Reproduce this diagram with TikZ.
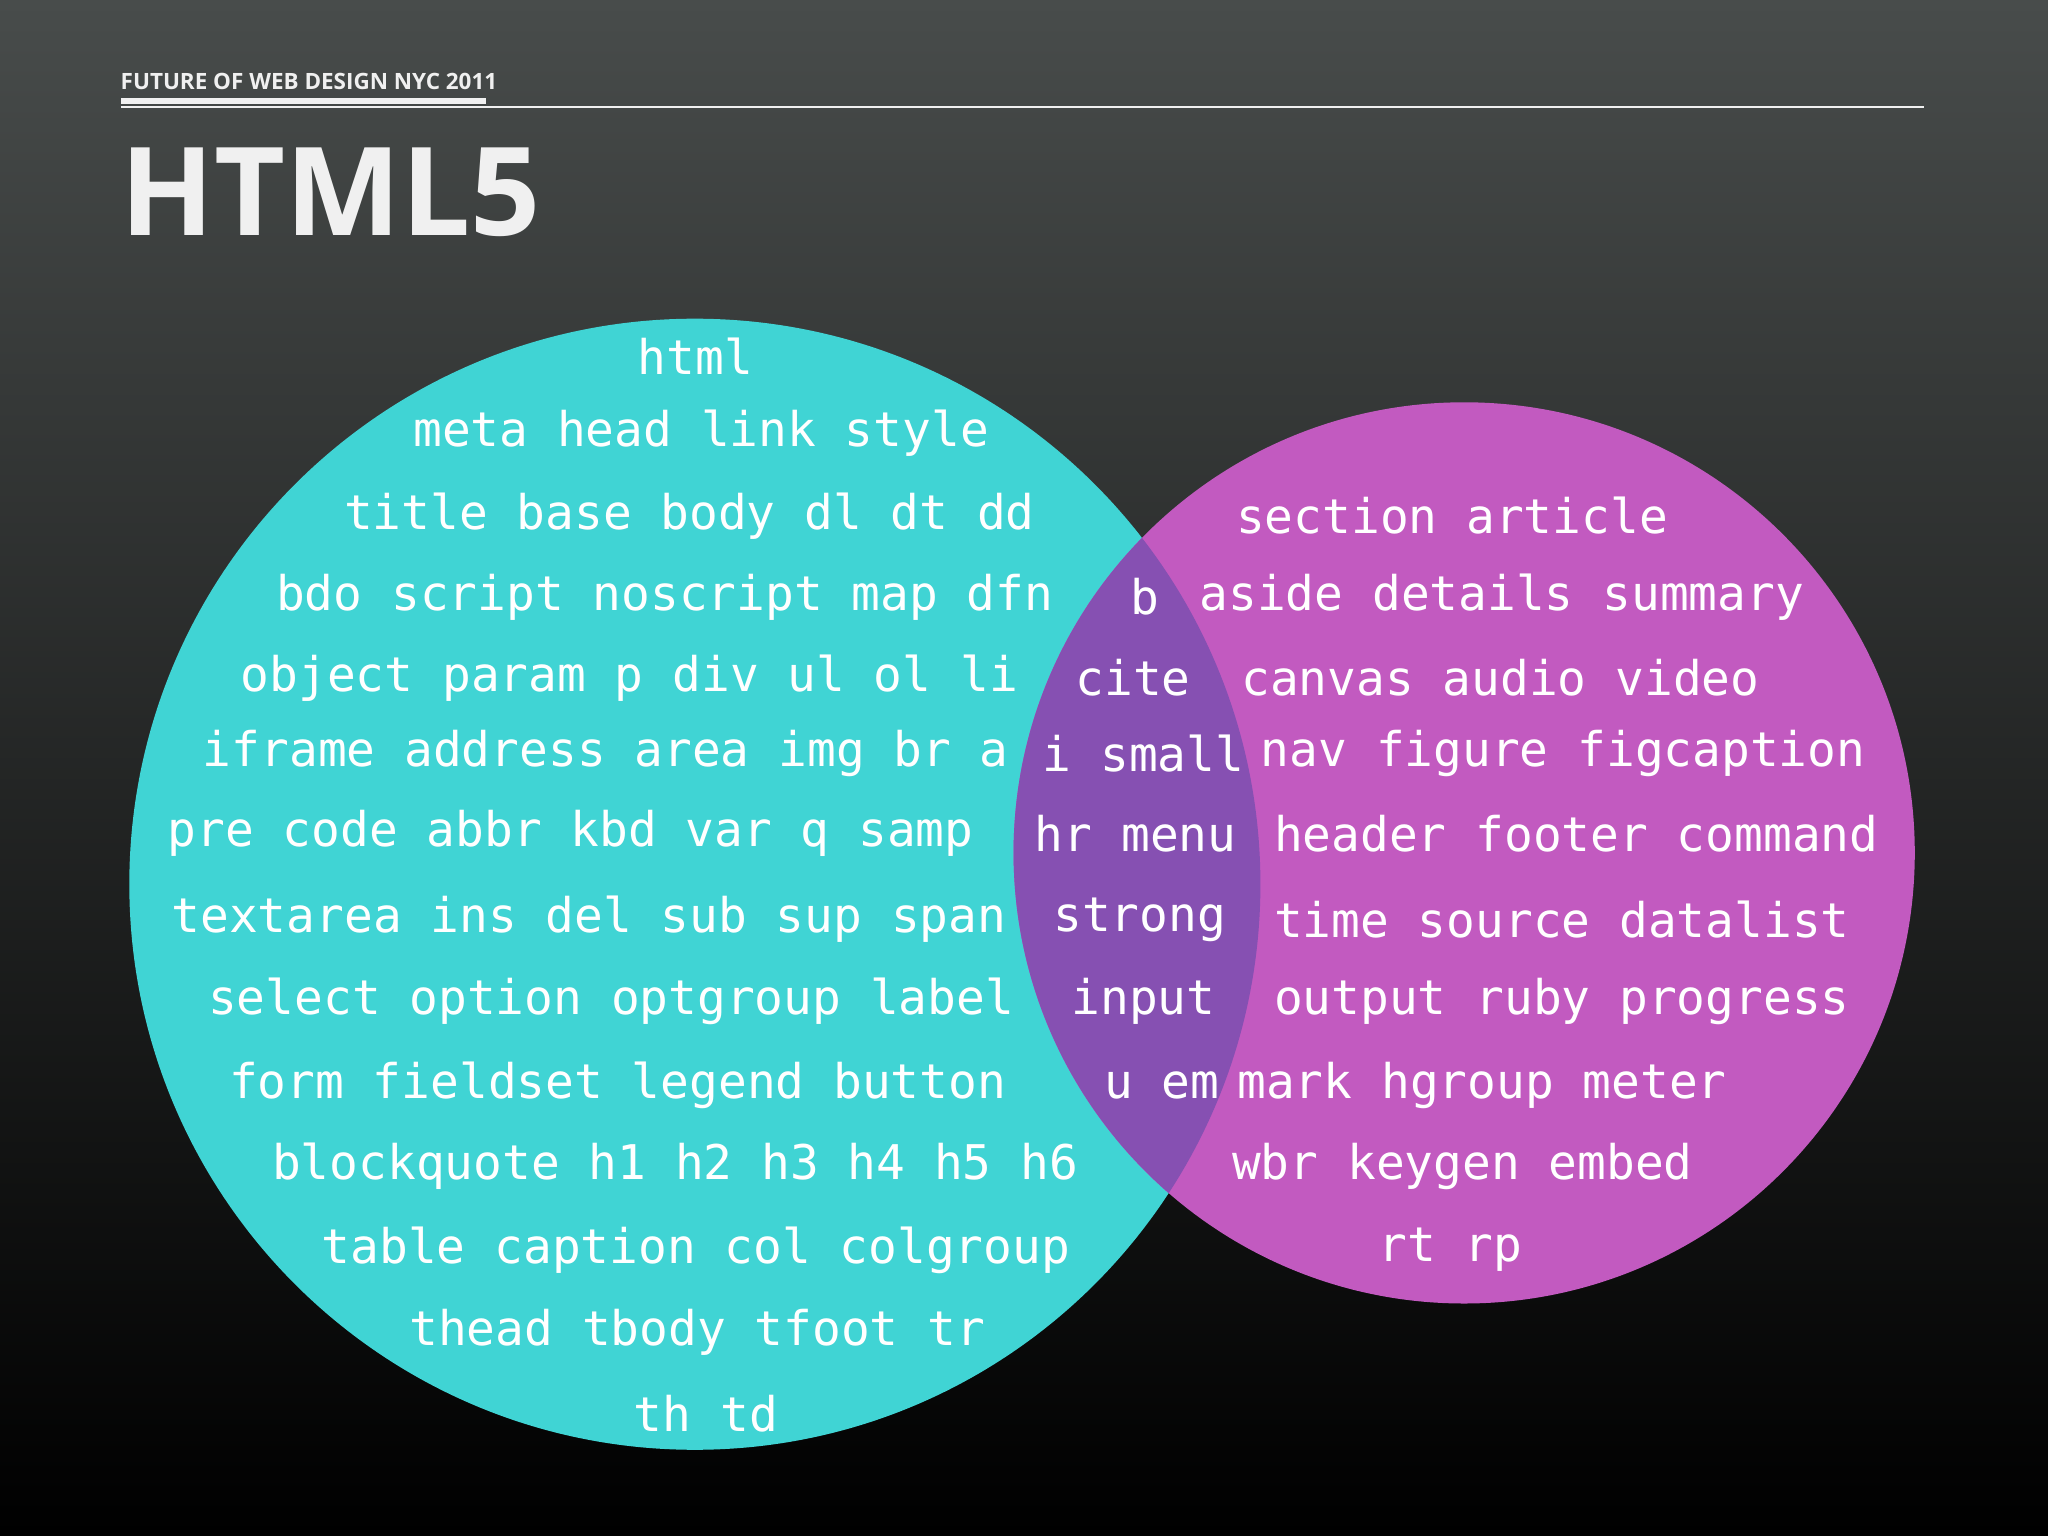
\documentclass[tikz,border=0pt]{standalone}
\usepackage{fontspec}
\setmainfont{Open Sans}
\newfontfamily\monof{DejaVu Sans Mono}
\definecolor{cy}{HTML}{40D4D4}
\definecolor{mg}{HTML}{C25AC0}
\definecolor{ov}{HTML}{8650B2}
\definecolor{bgt}{HTML}{484C4B}
\definecolor{wt}{HTML}{F0F0F0}
\begin{document}
\begin{tikzpicture}[x=0.5pt,y=-0.5pt,
  tag/.style={anchor=west,inner sep=0pt,text=white,font=\monof\fontsize{18.3}{20}\selectfont}]
\shade[top color=bgt,bottom color=black] (0,0) rectangle (1568,1176);
\useasboundingbox (0,0) rectangle (1568,1176);
\node[anchor=south west,inner sep=0pt,text=wt,font=\bfseries\fontsize{8.6}{10}\selectfont] (hdr) at (92,69) {FUTURE OF WEB DESIGN NYC 2011};
\fill[wt] (93,75) rectangle (372,80);
\draw[wt,line width=0.5pt] (93,82) -- (1473,82);
\node[anchor=west,inner sep=0pt,text=wt,font=\bfseries\fontsize{47}{50}\selectfont] (ttl) at (92,147) {HTML5};
\fill[cy] (532,677) circle[radius=216.5pt];
\fill[mg] (1121,653) circle[radius=172.5pt];
\begin{scope}
\clip (532,677) circle[radius=216.5pt];
\fill[ov] (1121,653) circle[radius=172.5pt];
\end{scope}
\node[tag] (l1) at (488,273) {html};
\node[tag] (l2) at (316,332) {meta head link style};
\node[tag] (l3) at (263,395) {title base body dl dt dd};
\node[tag] (l4) at (211,457) {bdo script noscript map dfn};
\node[tag] (l5) at (184,519) {object param p div ul ol li};
\node[tag] (l6) at (155,577) {iframe address area img br a};
\node[tag] (l7) at (128,638) {pre code abbr kbd var q samp};
\node[tag] (l8) at (131,704) {textarea ins del sub sup span};
\node[tag] (l9) at (159,767) {select option optgroup label};
\node[tag] (l10) at (175,831) {form fieldset legend button};
\node[tag] (l11) at (208,893) {blockquote h1 h2 h3 h4 h5 h6};
\node[tag] (l12) at (246,957) {table caption col colgroup};
\node[tag] (l13) at (313,1020) {thead tbody tfoot tr};
\node[tag] (l14) at (485,1082) {th td};
\node[tag] (m1) at (865,457) {b};
\node[tag] (m2) at (823,519) {cite};
\node[tag] (m3) at (798,577) {i small};
\node[tag] (m4) at (792,638) {hr menu};
\node[tag] (m5) at (806,704) {strong};
\node[tag] (m6) at (820,767) {input};
\node[tag] (m7) at (845,831) {u em};
\node[tag] (r1) at (946,395) {section article};
\node[tag] (r2) at (918,457) {aside details summary};
\node[tag] (r3) at (950,519) {canvas audio video};
\node[tag] (r4) at (965,577) {nav figure figcaption};
\node[tag] (r5) at (975,638) {header footer command};
\node[tag] (r6) at (975,704) {time source datalist};
\node[tag] (r7) at (975,767) {output ruby progress};
\node[tag] (r8) at (947,831) {mark hgroup meter};
\node[tag] (r9) at (943,893) {wbr keygen embed};
\node[tag] (r10) at (1055,957) {rt rp};
\end{tikzpicture}
\end{document}
